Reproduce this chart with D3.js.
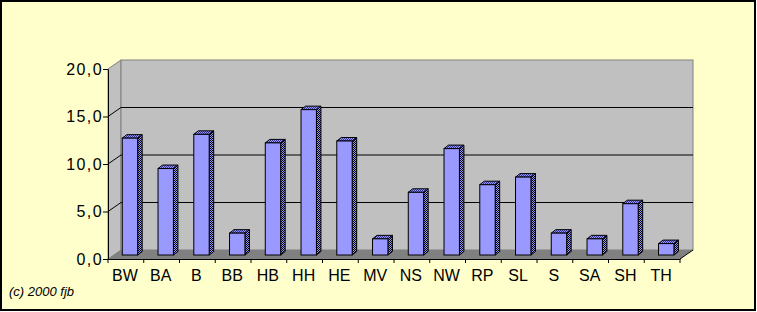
<!DOCTYPE html>
<html>
<head>
<meta charset="utf-8">
<script src="https://cdn.jsdelivr.net/npm/d3@7"></script>
<style>
  body { margin: 0; background: #fff; }
  text { font-family: "Liberation Sans", Arial, sans-serif; }
</style>
</head>
<body>
<div id="vis"></div>
<script>
var width = 757,
    height = 312;

// data
var categories = ["BW", "BA", "B", "BB", "HB", "HH", "HE", "MV", "NS", "NW", "RP", "SL", "S", "SA", "SH", "TH"];
var values = [12.3, 9.1, 12.7, 2.3, 11.8, 15.3, 12.0, 1.7, 6.6, 11.2, 7.4, 8.2, 2.3, 1.7, 5.4, 1.2];
var yTicks = [0, 5, 10, 15, 20];

// 3d depth of the plot box
var dx = 13, dy = 9;
// bar depth
var bdx = 4.5, bdy = 3.5;

var svg = d3.select("#vis").append("svg")
    .attr("width", width)
    .attr("height", height);

var defs = svg.append("defs");
function checker(id, c1, c2) {
  var p = defs.append("pattern")
      .attr("id", id)
      .attr("patternUnits", "userSpaceOnUse")
      .attr("width", 2).attr("height", 2);
  p.append("rect").attr("width", 2).attr("height", 2).attr("fill", c1);
  p.append("rect").attr("width", 1).attr("height", 1).attr("fill", c2);
  p.append("rect").attr("x", 1).attr("y", 1).attr("width", 1).attr("height", 1).attr("fill", c2);
}
checker("topDither", "#9999ff", "#333399");
checker("sideDither", "#9999ff", "#000000");

// background frame
svg.append("rect")
    .attr("x", 1).attr("y", 1)
    .attr("width", 754).attr("height", 309)
    .attr("fill", "#ffffcc")
    .attr("stroke", "#000")
    .attr("stroke-width", 2);

var x = d3.scaleBand().domain(categories).range([108, 680]).padding(0);
var y = d3.scaleLinear().domain([0, 20]).range([259, 69]);       // front plane
var yBack = d3.scaleLinear().domain([0, 20]).range([259 - dy, 69 - dy]);
var yBar = d3.scaleLinear().domain([0, 20]).range([255, 65]);    // bars sit mid-depth

var x0 = x.range()[0], x1 = x.range()[1];

// left wall
svg.append("path")
    .attr("d", "M" + x0 + "," + y(0) + "L" + x0 + "," + y(20) + "L" + (x0 + dx) + "," + yBack(20) +
               "L" + (x0 + dx) + "," + yBack(0) + "Z")
    .attr("fill", "#c0c0c0")
    .attr("stroke", "#808080");

// back wall
svg.append("rect")
    .attr("x", x0 + dx).attr("y", yBack(20))
    .attr("width", x1 - x0).attr("height", yBack(0) - yBack(20))
    .attr("fill", "#c0c0c0")
    .attr("stroke", "#808080");

// floor
svg.append("path")
    .attr("d", "M" + x0 + "," + y(0) + "L" + x1 + "," + y(0) + "L" + (x1 + dx) + "," + yBack(0) +
               "L" + (x0 + dx) + "," + yBack(0) + "Z")
    .attr("fill", "#808080");

// gridlines
var grid = svg.append("g");
yTicks.filter(function(d) { return d > 0 && d < 20; }).forEach(function(t) {
  grid.append("path")
      .attr("d", "M" + x0 + "," + y(t) + "L" + (x0 + dx) + "," + yBack(t) + "L" + (x1 + dx) + "," + yBack(t))
      .attr("fill", "none")
      .attr("stroke", "#000")
      .attr("stroke-width", 1);
});

// bars
var bw = 15.4, boff = 4.1;
function barLeft(i) { return x(categories[i]) + x.bandwidth() / 2 + boff - bw / 2; }

var bars = svg.selectAll(".bar")
    .data(values)
    .enter().append("g")
    .attr("class", "bar");

bars.append("path") // side
    .attr("d", function(d, i) {
      var r = barLeft(i) + bw;
      return "M" + r + "," + yBar(d) + "L" + (r + bdx) + "," + (yBar(d) - bdy) +
             "L" + (r + bdx) + "," + (yBar(0) - bdy) + "L" + r + "," + yBar(0) + "Z";
    })
    .attr("fill", "url(#sideDither)")
    .attr("stroke", "#000").attr("stroke-width", 1);

bars.append("path") // top
    .attr("d", function(d, i) {
      var l = barLeft(i), r = l + bw;
      return "M" + l + "," + yBar(d) + "L" + (l + bdx) + "," + (yBar(d) - bdy) +
             "L" + (r + bdx) + "," + (yBar(d) - bdy) + "L" + r + "," + yBar(d) + "Z";
    })
    .attr("fill", "url(#topDither)")
    .attr("stroke", "#000").attr("stroke-width", 1);

bars.append("rect") // front
    .attr("x", function(d, i) { return barLeft(i); })
    .attr("y", function(d) { return yBar(d); })
    .attr("width", bw)
    .attr("height", function(d) { return yBar(0) - yBar(d); })
    .attr("fill", "#9999ff")
    .attr("stroke", "#000").attr("stroke-width", 1);

// floor right edge
svg.append("line")
    .attr("x1", x1).attr("y1", y(0)).attr("x2", x1 + dx).attr("y2", yBack(0))
    .attr("stroke", "#000");

// axes
var fmt = function(d) { return d3.format(".1f")(d).replace(".", ","); };
var yAxis = svg.append("g")
    .attr("transform", "translate(" + x0 + ",0)")
    .call(d3.axisLeft(y).tickValues(yTicks).tickFormat(fmt).tickSize(5).tickSizeOuter(0));
yAxis.select(".domain").attr("stroke", "#000");
yAxis.selectAll("text").attr("font-size", 16).attr("fill", "#000")
    .attr("font-family", "'Liberation Sans', Arial, sans-serif")
    .attr("letter-spacing", 1.4)
    .attr("x", -5);

var xAxis = svg.append("g")
    .attr("transform", "translate(0," + y(0) + ")")
    .call(d3.axisBottom(x).tickSize(0).tickSizeOuter(0));
xAxis.selectAll("text").attr("font-size", 16).attr("fill", "#000")
    .attr("font-family", "'Liberation Sans', Arial, sans-serif")
    .attr("x", -1)
    .attr("y", 11).attr("dy", "0.71em");
xAxis.select(".domain").attr("stroke", "#000");
// category dividers
xAxis.selectAll(".sep")
    .data(categories.concat(["end"]))
    .enter().append("line")
    .attr("class", "sep")
    .attr("x1", function(d, i) { return x0 + i * x.step(); })
    .attr("x2", function(d, i) { return x0 + i * x.step(); })
    .attr("y1", 0).attr("y2", 4)
    .attr("stroke", "#000");

svg.append("text")
    .attr("x", 9).attr("y", 296)
    .attr("font-size", 13)
    .attr("font-style", "italic")
    .text("(c) 2000 fjb");
</script>
</body>
</html>
